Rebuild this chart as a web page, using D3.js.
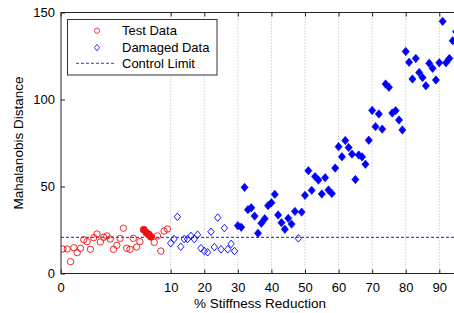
<!DOCTYPE html>
<html><head><meta charset="utf-8">
<script src="https://cdn.jsdelivr.net/npm/d3@7"></script>
<style>html,body{margin:0;padding:0;background:#fff;overflow:hidden}svg{display:block}text{font-family:"Liberation Sans",Arial,sans-serif}</style>
</head><body><svg id="c" width="454" height="313"></svg>
<script>
// ---- data ----
const xTickValues = [0,10,20,30,40,50,60,70,80,90];
const xTickLabels = ["0","10","20","30","40","50","60","70","80","90"];
const yTickValues = [0,50,100,150];
const controlLimit = 20.8;

const testX = [0.2,0.6,0.9,1.2,1.5,1.8,2.1,2.4,2.7,3.0,3.3,3.6,3.9,4.2,4.5,4.8,5.1,5.4,5.7,6.0,6.3,6.6,6.9,7.2,8.5,8.8,9.1,9.4,9.7];
const testY = [14.1,14.1,6.8,14.8,12.0,14.5,19.4,18.3,13.9,20.6,22.7,18.1,20.8,21.6,19.8,13.9,16.2,20.2,26.0,14.5,13.9,20.2,15.2,18.3,17.9,21.6,12.9,24.4,25.6];
const alarmX = [7.55,7.8,8.0,8.2];
const alarmY = [25.2,23.4,22.5,21.1];

const damOpenPct = [10,11,12,13,14,15,16,17,18,19,20,21,22,23,24,25,26,27,28,29,48];
const damOpenY   = [17.4,19.8,32.6,15.4,19.8,19.8,21.6,19.8,22.3,14.5,12.9,12.2,24.0,15.2,32.1,13.9,26.1,13.9,17.0,12.9,20.2];
const damFillPct = [30,31,32,33,34,35,36,37,38,39,40,41,42,43,44,45,46,47,49,50,51,52,53,54,55,56,57,58,59,60,61,62,63,64,65,66,67,68,69,70,71,72,73,74,75,76,77,78,79,80,81,82,83,84,85,86,87,88,89,90,91,92,93,94,95];
const damFillY   = [27.5,26.6,49.5,36.7,37.8,33.0,23.1,28.9,31.5,39.0,40.7,45.5,33.6,29.2,25.4,31.7,28.4,35.7,35.3,44.9,59.1,47.8,55.7,53.7,45.7,55.1,48.0,46.0,60.6,72.9,67.1,76.4,72.4,68.6,54.0,68.1,67.0,62.8,76.6,93.7,84.4,91.7,83.0,108.9,107.0,92.2,93.6,88.2,82.5,127.6,121.4,111.8,123.6,115.5,112.6,107.9,120.8,117.9,111.2,121.1,144.9,121.1,123.6,133.8,139.0];

const legendLabels = ["Test Data","Damaged Data","Control Limit"];

// ---- layout ----
const L = 61, T = 12.5, B = 273.5, R = 457.5;
const svg = d3.select("#c");
const x = d3.scaleLinear().domain([0,10,90]).range([60.7,170.7,439.3]);
const y = d3.scaleLinear().domain([0,150]).range([B,T]);
const red = "#ee1111", blue = "#0000ff";

// grid
svg.append("g").selectAll("line").data(xTickValues.filter(d=>d>0)).join("line")
  .attr("x1",d=>x(d)).attr("x2",d=>x(d)).attr("y1",T).attr("y2",B)
  .attr("stroke","#b8b8b8").attr("stroke-width",1).attr("stroke-dasharray","1,2");

// axes
const xa = svg.append("g").attr("transform",`translate(0,${B})`)
  .call(d3.axisBottom(x).tickValues(xTickValues).tickFormat((d,i)=>xTickLabels[i]).tickSizeInner(-4).tickSizeOuter(0).tickPadding(9));
const xt = svg.append("g").attr("transform",`translate(0,${T})`)
  .call(d3.axisTop(x).tickValues(xTickValues).tickFormat("").tickSizeInner(-4).tickSizeOuter(0));
const ya = svg.append("g").attr("transform",`translate(${L},0)`)
  .call(d3.axisLeft(y).tickValues(yTickValues).tickSizeInner(-4).tickSizeOuter(0).tickPadding(6));
[xa,xt,ya].forEach(g=>{g.select(".domain").remove();g.selectAll("line").attr("stroke","#222");
  g.selectAll("text").attr("font-size",13).attr("fill","#000").style("font-family","Liberation Sans, Arial, sans-serif");});
svg.append("rect").attr("x",L).attr("y",T).attr("width",R-L).attr("height",B-T)
  .attr("fill","none").attr("stroke","#222").attr("stroke-width",1);

// clip
svg.append("clipPath").attr("id","pc").append("rect").attr("x",L).attr("y",T).attr("width",R-L).attr("height",B-T);
const g = svg.append("g").attr("clip-path","url(#pc)");

const diamond = (w,h)=>`M0,${-h}L${w},0L0,${h}L${-w},0Z`;

// control limit
g.append("line").attr("x1",L).attr("x2",R).attr("y1",y(controlLimit)).attr("y2",y(controlLimit))
  .attr("stroke","#1a1acc").attr("stroke-width",1).attr("stroke-dasharray","3,2");

// test data
g.append("g").selectAll("circle").data(testX).join("circle")
  .attr("cx",d=>x(d)).attr("cy",(d,i)=>y(testY[i])).attr("r",3.2)
  .attr("fill","none").attr("stroke",red).attr("stroke-width",0.9);
g.append("g").selectAll("circle").data(alarmX).join("circle")
  .attr("cx",d=>x(d)).attr("cy",(d,i)=>y(alarmY[i])).attr("r",3.5)
  .attr("fill",red).attr("stroke",red).attr("stroke-width",0.8);

// damaged data
g.append("g").selectAll("path").data(damOpenPct).join("path")
  .attr("transform",(d,i)=>`translate(${x(d)},${y(damOpenY[i])})`).attr("d",diamond(3.2,3.8))
  .attr("fill","none").attr("stroke",blue).attr("stroke-width",0.9);
g.append("g").selectAll("path").data(damFillPct).join("path")
  .attr("transform",(d,i)=>`translate(${x(d)},${y(damFillY[i])})`).attr("d",diamond(3.6,4.2))
  .attr("fill",blue).attr("stroke",blue).attr("stroke-width",0.6);

// legend
const lg = svg.append("g");
lg.append("rect").attr("x",67.5).attr("y",19.5).attr("width",149.5).attr("height",55.5)
  .attr("fill","#fff").attr("stroke","#333").attr("stroke-width",1);
const rows = [30.7,47.7,63.3];
lg.append("circle").attr("cx",97).attr("cy",rows[0]).attr("r",2.6).attr("fill","none").attr("stroke",red).attr("stroke-width",0.8);
lg.append("path").attr("transform",`translate(97,${rows[1]})`).attr("d",diamond(2.6,3.2)).attr("fill","none").attr("stroke",blue).attr("stroke-width",0.8);
lg.append("line").attr("x1",76).attr("x2",116).attr("y1",rows[2]).attr("y2",rows[2]).attr("stroke","#3a3acc").attr("stroke-width",1).attr("stroke-dasharray","3,2");
lg.selectAll("text").data(legendLabels).join("text").attr("x",122).attr("y",(d,i)=>rows[i]+4.6)
  .attr("font-size",13).attr("fill","#000").text(d=>d);

// axis labels
svg.append("text").attr("x",260).attr("y",307.5).attr("text-anchor","middle").attr("font-size",13.5).text("% Stiffness Reduction");
svg.append("text").attr("transform",`translate(23,${(T+B)/2}) rotate(-90)`).attr("text-anchor","middle").attr("font-size",13.5).text("Mahalanobis Distance");
</script></body></html>
